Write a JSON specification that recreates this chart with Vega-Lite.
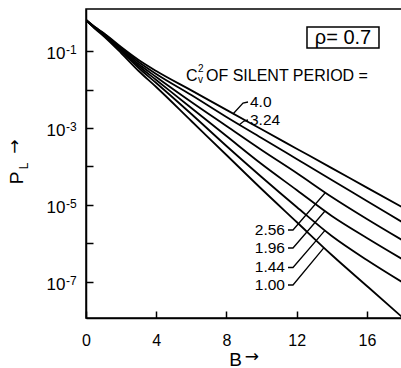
{
  "$schema": "https://vega.github.io/schema/vega-lite/v6.json",
  "width": 316,
  "height": 309,
  "autosize": {"type": "none"},
  "padding": {"left": 86, "top": 9, "right": 0, "bottom": 50},
  "background": "white",
  "config": {
    "view": {"stroke": "black", "strokeWidth": 1.5},
    "font": "Liberation Sans",
    "text": {"font": "Liberation Sans", "color": "black"}
  },
  "datasets": {
    "curves": [
      {"c": "4.0", "B": 0, "P": 0.6386}, {"c": "4.0", "B": 0.5, "P": 0.4201}, {"c": "4.0", "B": 1, "P": 0.2934}, {"c": "4.0", "B": 2, "P": 0.1270}, {"c": "4.0", "B": 3, "P": 0.05838}, {"c": "4.0", "B": 4, "P": 0.03024}, {"c": "4.0", "B": 6, "P": 0.009476}, {"c": "4.0", "B": 8, "P": 0.0029526}, {"c": "4.0", "B": 10, "P": 0.0009252}, {"c": "4.0", "B": 12, "P": 0.0002899}, {"c": "4.0", "B": 14, "P": 0.00009088}, {"c": "4.0", "B": 16, "P": 0.00002831}, {"c": "4.0", "B": 18, "P": 0.000008873},
      {"c": "3.24", "B": 0, "P": 0.6386}, {"c": "3.24", "B": 0.5, "P": 0.4201}, {"c": "3.24", "B": 1, "P": 0.2848}, {"c": "3.24", "B": 2, "P": 0.1197}, {"c": "3.24", "B": 3, "P": 0.05179}, {"c": "3.24", "B": 4, "P": 0.02527}, {"c": "3.24", "B": 6, "P": 0.007197}, {"c": "3.24", "B": 8, "P": 0.001931}, {"c": "3.24", "B": 10, "P": 0.0005499}, {"c": "3.24", "B": 12, "P": 0.0001566}, {"c": "3.24", "B": 14, "P": 0.00004461}, {"c": "3.24", "B": 16, "P": 0.0000127}, {"c": "3.24", "B": 18, "P": 0.000003618},
      {"c": "2.56", "B": 0, "P": 0.6386}, {"c": "2.56", "B": 0.5, "P": 0.4077}, {"c": "2.56", "B": 1, "P": 0.2764}, {"c": "2.56", "B": 2, "P": 0.1127}, {"c": "2.56", "B": 3, "P": 0.04595}, {"c": "2.56", "B": 4, "P": 0.02112}, {"c": "2.56", "B": 6, "P": 0.004735}, {"c": "2.56", "B": 8, "P": 0.001127}, {"c": "2.56", "B": 10, "P": 0.0002683}, {"c": "2.56", "B": 12, "P": 0.00006778}, {"c": "2.56", "B": 14, "P": 0.00001614}, {"c": "2.56", "B": 16, "P": 0.000004329}, {"c": "2.56", "B": 18, "P": 0.000001233},
      {"c": "1.96", "B": 0, "P": 0.6386}, {"c": "1.96", "B": 0.5, "P": 0.3957}, {"c": "1.96", "B": 1, "P": 0.2683}, {"c": "1.96", "B": 2, "P": 0.1062}, {"c": "1.96", "B": 3, "P": 0.04077}, {"c": "1.96", "B": 4, "P": 0.01765}, {"c": "1.96", "B": 6, "P": 0.003307}, {"c": "1.96", "B": 8, "P": 0.0006197}, {"c": "1.96", "B": 10, "P": 0.0001161}, {"c": "1.96", "B": 12, "P": 0.00002453}, {"c": "1.96", "B": 14, "P": 0.000005179}, {"c": "1.96", "B": 16, "P": 0.000001389}, {"c": "1.96", "B": 18, "P": 3.957e-7},
      {"c": "1.44", "B": 0, "P": 0.6386}, {"c": "1.44", "B": 0.5, "P": 0.3957}, {"c": "1.44", "B": 1, "P": 0.2603}, {"c": "1.44", "B": 2, "P": 0.1}, {"c": "1.44", "B": 3, "P": 0.03618}, {"c": "1.44", "B": 4, "P": 0.01475}, {"c": "1.44", "B": 6, "P": 0.00231}, {"c": "1.44", "B": 8, "P": 0.0003408}, {"c": "1.44", "B": 10, "P": 0.00005337}, {"c": "1.44", "B": 12, "P": 0.000008873}, {"c": "1.44", "B": 14, "P": 0.000001566}, {"c": "1.44", "B": 16, "P": 3.728e-7}, {"c": "1.44", "B": 18, "P": 1.0e-7},
      {"c": "1.00", "B": 0, "P": 0.6386}, {"c": "1.00", "B": 0.5, "P": 0.384}, {"c": "1.00", "B": 1, "P": 0.2452}, {"c": "1.00", "B": 2, "P": 0.08873}, {"c": "1.00", "B": 3, "P": 0.03024}, {"c": "1.00", "B": 4, "P": 0.01161}, {"c": "1.00", "B": 6, "P": 0.00152}, {"c": "1.00", "B": 8, "P": 0.0001989}, {"c": "1.00", "B": 10, "P": 0.00002604}, {"c": "1.00", "B": 12, "P": 0.000003618}, {"c": "1.00", "B": 14, "P": 5.027e-7}, {"c": "1.00", "B": 16, "P": 7.874e-8}, {"c": "1.00", "B": 18, "P": 1.233e-8}
    ],
    "leaders": [
      {"id": "4.0", "o": 1, "B": 9.228, "P": 0.004735}, {"id": "4.0", "o": 2, "B": 8.943, "P": 0.004461}, {"id": "4.0", "o": 3, "B": 8.373, "P": 0.00231},
      {"id": "3.24", "o": 1, "B": 9.228, "P": 0.001614}, {"id": "3.24", "o": 2, "B": 9.0, "P": 0.00152}, {"id": "3.24", "o": 3, "B": 8.715, "P": 0.0011966},
      {"id": "2.56", "o": 1, "B": 11.506, "P": 0.000002243}, {"id": "2.56", "o": 2, "B": 11.791, "P": 0.000002243}, {"id": "2.56", "o": 3, "B": 13.614, "P": 0.0000205},
      {"id": "1.96", "o": 1, "B": 11.506, "P": 7.64e-7}, {"id": "1.96", "o": 2, "B": 11.791, "P": 7.64e-7}, {"id": "1.96", "o": 3, "B": 13.614, "P": 0.000006985},
      {"id": "1.44", "o": 1, "B": 11.506, "P": 2.38e-7}, {"id": "1.44", "o": 2, "B": 11.791, "P": 2.38e-7}, {"id": "1.44", "o": 3, "B": 13.614, "P": 0.000002189},
      {"id": "1.00", "o": 1, "B": 11.506, "P": 8.357e-8}, {"id": "1.00", "o": 2, "B": 11.791, "P": 8.357e-8}, {"id": "1.00", "o": 3, "B": 13.557, "P": 7.78e-7}
    ],
    "labelsLeft": [
      {"t": "4.0", "B": 9.342, "P": 0.004735},
      {"t": "3.24", "B": 9.342, "P": 0.001614}
    ],
    "labelsRight": [
      {"t": "2.56", "B": 11.335, "P": 0.000002243},
      {"t": "1.96", "B": 11.335, "P": 7.64e-7},
      {"t": "1.44", "B": 11.335, "P": 2.38e-7},
      {"t": "1.00", "B": 11.335, "P": 8.357e-8}
    ],
    "headBig": [
      {"t": "C", "B": 5.696, "P": 0.01663},
      {"t": "OF SILENT PERIOD =", "B": 6.835, "P": 0.01663}
    ],
    "headSmall": [
      {"t": "2", "B": 6.38, "P": 0.02848},
      {"t": "v", "B": 6.38, "P": 0.01475}
    ],
    "expo": [
      {"t": "-1", "B": -1.139, "P": 0.1062},
      {"t": "-3", "B": -1.139, "P": 0.001062},
      {"t": "-5", "B": -1.139, "P": 0.00001062},
      {"t": "-7", "B": -1.139, "P": 1.062e-7}
    ],
    "box": [{"B": 12.588, "B2": 16.689, "P": 0.1197, "P2": 0.4201}],
    "rho": [{"t": "ρ= 0.7", "B": 14.639, "P": 0.2176}],
    "ytitleP": [{"t": "P", "B": -3.93, "P": 0.00005027}],
    "ytitleL": [{"t": "L", "B": -3.55, "P": 0.000103}],
    "ytitleArrow": [{"t": "→", "B": -4.044, "P": 0.00033}],
    "xtitleArrow": [{"t": "→", "B": 9.45, "P": 1.15e-9}]
  },
  "encoding": {
    "x": {
      "field": "B", "type": "quantitative",
      "scale": {"domain": [0, 18], "nice": false, "zero": false},
      "axis": {
        "values": [0, 4, 8, 12, 16], "grid": false,
        "title": "B", "titleFont": "Liberation Sans", "titleFontSize": 19, "titleFontWeight": "normal", "titleColor": "black", "titlePadding": 2, "titleX": 149,
        "labelFont": "Liberation Sans", "labelFontSize": 16, "labelColor": "black", "labelPadding": 21, "labelFlush": false,
        "tickSize": -7, "tickWidth": 1.5, "tickColor": "black",
        "domainColor": "black", "domainWidth": 1.5
      }
    },
    "y": {
      "field": "P", "type": "quantitative",
      "scale": {"type": "log", "domain": [1.161e-8, 1.233], "nice": false},
      "axis": {
        "values": [0.1, 0.01, 0.001, 0.0001, 0.00001, 0.000001, 0.0000001], "grid": false, "title": null,
        "labelExpr": "abs(round(log(datum.value)/LN10)) % 2 == 1 ? '10' : ''",
        "labelFont": "Liberation Sans", "labelFontSize": 17, "labelColor": "black", "labelPadding": 28, "labelOffset": 2.5, "labelOverlap": false, "labelFlush": false,
        "tickSize": -7, "tickWidth": 1.5, "tickColor": "black",
        "domainColor": "black", "domainWidth": 1.5
      }
    }
  },
  "layer": [
    {
      "data": {"name": "curves"},
      "mark": {"type": "line", "color": "black", "strokeWidth": 1.8, "interpolate": "monotone", "clip": true},
      "encoding": {"detail": {"field": "c"}}
    },
    {
      "data": {"name": "leaders"},
      "mark": {"type": "line", "color": "black", "strokeWidth": 1.3},
      "encoding": {"detail": {"field": "id"}, "order": {"field": "o", "type": "quantitative"}}
    },
    {
      "data": {"name": "labelsLeft"},
      "mark": {"type": "text", "align": "left", "baseline": "middle", "fontSize": 15.5},
      "encoding": {"text": {"field": "t"}}
    },
    {
      "data": {"name": "labelsRight"},
      "mark": {"type": "text", "align": "right", "baseline": "middle", "fontSize": 15.5},
      "encoding": {"text": {"field": "t"}}
    },
    {
      "data": {"name": "headBig"},
      "mark": {"type": "text", "align": "left", "baseline": "alphabetic", "fontSize": 16},
      "encoding": {"text": {"field": "t"}}
    },
    {
      "data": {"name": "headSmall"},
      "mark": {"type": "text", "align": "left", "baseline": "alphabetic", "fontSize": 10},
      "encoding": {"text": {"field": "t"}}
    },
    {
      "data": {"name": "expo"},
      "mark": {"type": "text", "align": "left", "baseline": "middle", "fontSize": 12},
      "encoding": {"text": {"field": "t"}}
    },
    {
      "data": {"name": "box"},
      "mark": {"type": "rect", "fill": "white", "stroke": "black", "strokeWidth": 1.5},
      "encoding": {"x2": {"field": "B2"}, "y2": {"field": "P2"}}
    },
    {
      "data": {"name": "rho"},
      "mark": {"type": "text", "align": "center", "baseline": "middle", "fontSize": 20},
      "encoding": {"text": {"field": "t"}}
    },
    {
      "data": {"name": "ytitleP"},
      "mark": {"type": "text", "align": "center", "baseline": "middle", "fontSize": 19, "angle": 270},
      "encoding": {"text": {"field": "t"}}
    },
    {
      "data": {"name": "ytitleL"},
      "mark": {"type": "text", "align": "center", "baseline": "middle", "fontSize": 12, "angle": 270},
      "encoding": {"text": {"field": "t"}}
    },
    {
      "data": {"name": "ytitleArrow"},
      "mark": {"type": "text", "align": "center", "baseline": "middle", "fontSize": 17, "angle": 270, "font": "DejaVu Sans"},
      "encoding": {"text": {"field": "t"}}
    },
    {
      "data": {"name": "xtitleArrow"},
      "mark": {"type": "text", "align": "center", "baseline": "middle", "fontSize": 17, "font": "DejaVu Sans"},
      "encoding": {"text": {"field": "t"}}
    }
  ]
}
